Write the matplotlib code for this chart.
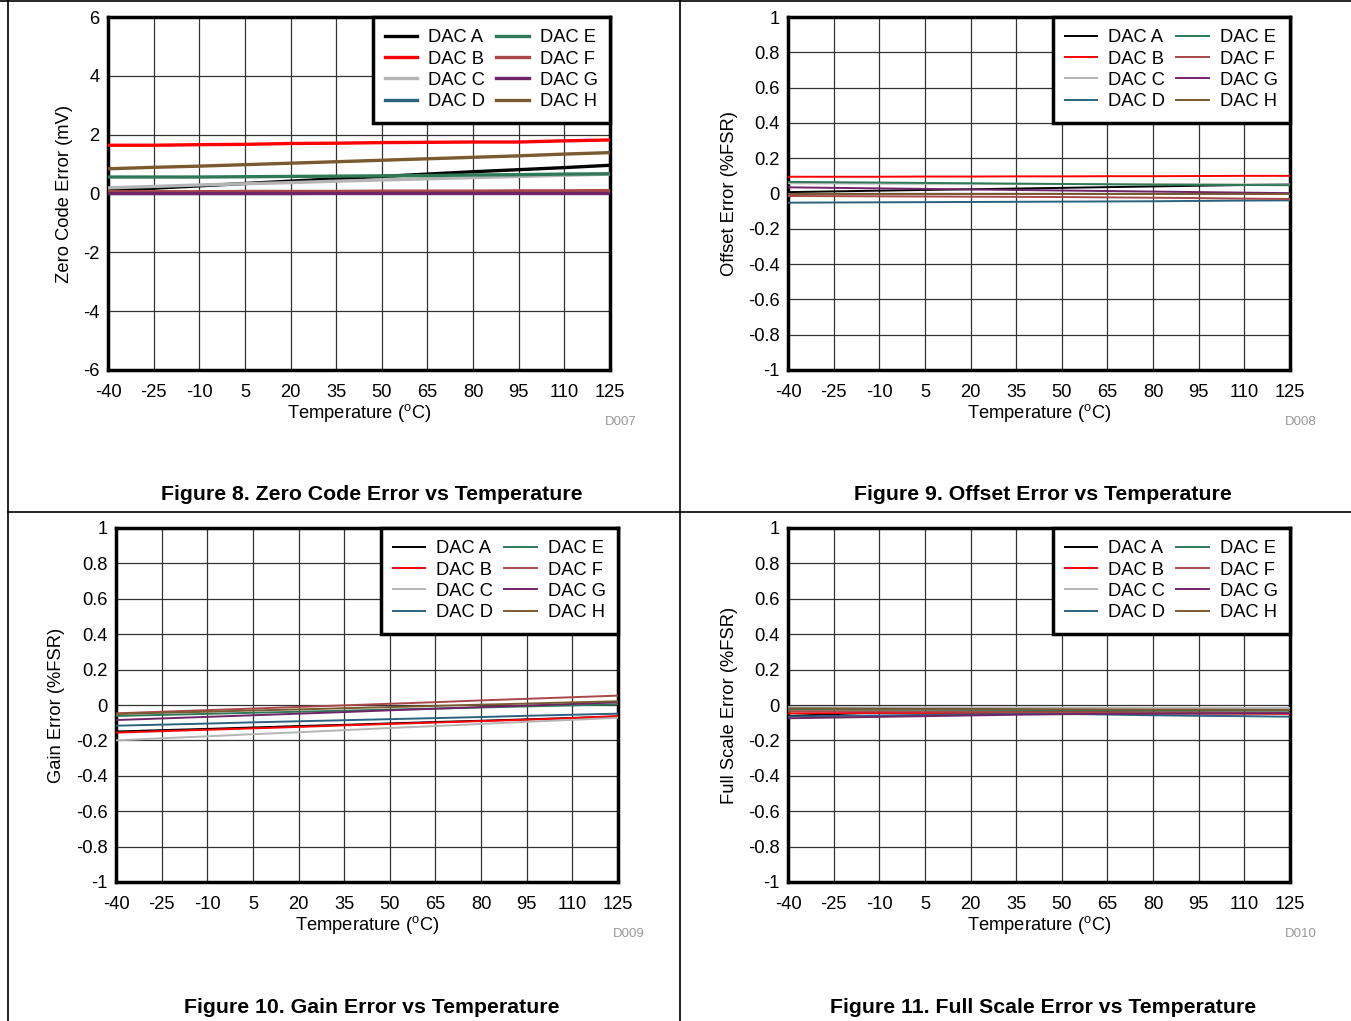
import matplotlib
matplotlib.use("Agg")
import matplotlib.pyplot as plt
from matplotlib.lines import Line2D
from matplotlib.ticker import FuncFormatter

plt.rcParams['font.family'] = ['Liberation Sans', 'DejaVu Sans']
plt.rcParams['axes.unicode_minus'] = False
plt.rcParams['mathtext.fontset'] = 'custom'
plt.rcParams['mathtext.rm'] = 'Liberation Sans'

temps = [-40, -25, -10, 5, 20, 35, 50, 65, 80, 95, 110, 125]
dac_names = ['DAC A', 'DAC B', 'DAC C', 'DAC D', 'DAC E', 'DAC F', 'DAC G', 'DAC H']
dac_colors = ['#000000', '#ff0000', '#b4b4b4', '#2a6280', '#2e7a58', '#a84848', '#702468', '#7a5a30']

# Figure 8: Zero code error (mV)
zc_a = [0.10, 0.18, 0.26, 0.34, 0.42, 0.50, 0.58, 0.66, 0.74, 0.81, 0.88, 0.96]
zc_b = [1.64, 1.64, 1.66, 1.67, 1.70, 1.71, 1.73, 1.74, 1.75, 1.75, 1.79, 1.82]
zc_c = [0.19, 0.24, 0.29, 0.33, 0.37, 0.42, 0.46, 0.50, 0.54, 0.58, 0.62, 0.66]
zc_d = [0.00, 0.00, 0.00, 0.00, 0.00, 0.01, 0.01, 0.01, 0.01, 0.01, 0.01, 0.01]
zc_e = [0.56, 0.56, 0.56, 0.57, 0.58, 0.59, 0.60, 0.61, 0.63, 0.64, 0.66, 0.67]
zc_f = [0.06, 0.06, 0.06, 0.07, 0.07, 0.07, 0.08, 0.08, 0.08, 0.09, 0.09, 0.10]
zc_g = [0.03, 0.03, 0.03, 0.03, 0.03, 0.03, 0.03, 0.03, 0.03, 0.03, 0.03, 0.03]
zc_h = [0.84, 0.89, 0.93, 0.98, 1.03, 1.08, 1.13, 1.18, 1.23, 1.28, 1.34, 1.39]

# Figure 9: Offset error (%FSR)
of_a = [0.008, 0.012, 0.016, 0.020, 0.024, 0.028, 0.032, 0.036, 0.040, 0.044, 0.048, 0.052]
of_b = [0.095, 0.095, 0.095, 0.096, 0.096, 0.097, 0.097, 0.098, 0.098, 0.099, 0.100, 0.100]
of_c = [0.058, 0.057, 0.056, 0.055, 0.055, 0.054, 0.054, 0.054, 0.053, 0.053, 0.052, 0.052]
of_d = [-0.052, -0.051, -0.050, -0.049, -0.048, -0.047, -0.046, -0.045, -0.044, -0.042, -0.040, -0.039]
of_e = [0.066, 0.064, 0.062, 0.060, 0.058, 0.056, 0.054, 0.052, 0.050, 0.049, 0.048, 0.047]
of_f = [-0.014, -0.015, -0.016, -0.017, -0.018, -0.019, -0.020, -0.022, -0.024, -0.026, -0.029, -0.031]
of_g = [0.035, 0.032, 0.029, 0.026, 0.023, 0.020, 0.017, 0.014, 0.011, 0.008, 0.005, 0.002]
of_h = [-0.003, -0.003, -0.003, -0.003, -0.003, -0.003, -0.003, -0.003, -0.003, -0.003, -0.003, -0.003]

# Figure 10: Gain error (%FSR)
ge_a = [-0.150, -0.142, -0.135, -0.127, -0.119, -0.112, -0.104, -0.096, -0.089, -0.081, -0.073, -0.066]
ge_b = [-0.156, -0.148, -0.140, -0.132, -0.124, -0.115, -0.107, -0.099, -0.091, -0.083, -0.074, -0.062]
ge_c = [-0.200, -0.188, -0.177, -0.165, -0.154, -0.142, -0.130, -0.119, -0.107, -0.095, -0.084, -0.072]
ge_d = [-0.117, -0.111, -0.105, -0.098, -0.092, -0.086, -0.080, -0.074, -0.068, -0.061, -0.055, -0.049]
ge_e = [-0.062, -0.056, -0.050, -0.044, -0.038, -0.032, -0.026, -0.020, -0.014, -0.008, -0.002, 0.004]
ge_f = [-0.047, -0.038, -0.029, -0.020, -0.011, -0.002, 0.007, 0.016, 0.026, 0.035, 0.044, 0.053]
ge_g = [-0.085, -0.076, -0.067, -0.058, -0.049, -0.040, -0.030, -0.021, -0.012, -0.003, 0.006, 0.015]
ge_h = [-0.051, -0.044, -0.038, -0.031, -0.025, -0.018, -0.012, -0.005, 0.002, 0.008, 0.015, 0.021]

# Figure 11: Full scale error (%FSR)
fs_a = [-0.062, -0.052, -0.042, -0.040, -0.040, -0.040, -0.041, -0.041, -0.042, -0.042, -0.043, -0.043]
fs_b = [-0.047, -0.046, -0.045, -0.045, -0.045, -0.046, -0.046, -0.047, -0.047, -0.048, -0.049, -0.050]
fs_c = [-0.012, -0.012, -0.013, -0.013, -0.014, -0.014, -0.015, -0.015, -0.016, -0.016, -0.017, -0.017]
fs_d = [-0.065, -0.062, -0.059, -0.056, -0.053, -0.051, -0.050, -0.054, -0.058, -0.061, -0.063, -0.066]
fs_e = [-0.025, -0.026, -0.027, -0.027, -0.028, -0.028, -0.029, -0.029, -0.030, -0.030, -0.031, -0.031]
fs_f = [-0.035, -0.036, -0.037, -0.038, -0.039, -0.040, -0.041, -0.042, -0.043, -0.043, -0.044, -0.045]
fs_g = [-0.075, -0.071, -0.067, -0.063, -0.059, -0.055, -0.052, -0.050, -0.049, -0.048, -0.047, -0.046]
fs_h = [-0.019, -0.020, -0.021, -0.022, -0.022, -0.023, -0.024, -0.025, -0.026, -0.026, -0.027, -0.028]

W, H = 1351, 1021
fig = plt.figure(figsize=(W / 100, H / 100), dpi=100)


def rect(x0, y0, x1, y1):
    return [x0 / W, 1 - y1 / H, (x1 - x0) / W, (y1 - y0) / H]


panels = [
    dict(pos=(108, 17, 610, 370), series=[zc_a, zc_b, zc_c, zc_d, zc_e, zc_f, zc_g, zc_h],
         ylim=(-6, 6), ystep=2, ylabel='Zero Code Error (mV)', lw=2.4,
         code='D007', title='Figure 8. Zero Code Error vs Temperature', tx=372, ty=495, ylx=64),
    dict(pos=(788, 17, 1290, 370), series=[of_a, of_b, of_c, of_d, of_e, of_f, of_g, of_h],
         ylim=(-1, 1), ystep=0.2, ylabel='Offset Error (%FSR)', lw=1.4,
         code='D008', title='Figure 9. Offset Error vs Temperature', tx=1043, ty=495, ylx=729),
    dict(pos=(116, 528, 618, 882), series=[ge_a, ge_b, ge_c, ge_d, ge_e, ge_f, ge_g, ge_h],
         ylim=(-1, 1), ystep=0.2, ylabel='Gain Error (%FSR)', lw=1.4,
         code='D009', title='Figure 10. Gain Error vs Temperature', tx=372, ty=1007, ylx=56),
    dict(pos=(788, 528, 1290, 882), series=[fs_a, fs_b, fs_c, fs_d, fs_e, fs_f, fs_g, fs_h],
         ylim=(-1, 1), ystep=0.2, ylabel='Full Scale Error (%FSR)', lw=1.4,
         code='D010', title='Figure 11. Full Scale Error vs Temperature', tx=1043, ty=1007, ylx=729),
]

fs = 13.2


def yfmt(v, pos):
    if abs(v - round(v)) < 1e-9:
        return '%d' % round(v)
    return '%.1f' % v


for p in panels:
    x0, y0, x1, y1 = p['pos']
    ax = fig.add_axes(rect(x0, y0, x1, y1))
    for vals, name, col in zip(p['series'], dac_names, dac_colors):
        ax.plot(temps, vals, color=col, lw=p['lw'], label=name, zorder=3)
    ax.set_xlim(-40, 125)
    ax.set_ylim(*p['ylim'])
    ax.set_xticks(temps)
    lo, hi = p['ylim']
    n = int(round((hi - lo) / p['ystep']))
    ax.set_yticks([lo + i * p['ystep'] for i in range(n + 1)])
    ax.yaxis.set_major_formatter(FuncFormatter(yfmt))
    ax.grid(True, color='#333333', lw=0.9, zorder=1)
    ax.tick_params(axis='x', length=0, labelsize=fs, pad=10)
    ax.tick_params(axis='y', length=0, labelsize=fs, pad=6)
    for s in ax.spines.values():
        s.set_linewidth(2.5)
        s.set_color('black')
    ax.set_xlabel(r'Temperature ($^{\mathrm{o}}$C)', fontsize=fs, labelpad=1)
    ax.set_ylabel(p['ylabel'], fontsize=fs)
    ax.yaxis.set_label_coords((p['ylx'] + 9 - x0) / (x1 - x0), 0.5)
    leg = ax.legend(ncol=2, loc='upper right', fontsize=fs, frameon=True, fancybox=False,
                    framealpha=1, edgecolor='black', borderaxespad=0, handlelength=1.75,
                    handletextpad=0.6, columnspacing=0.6, labelspacing=0.23,
                    borderpad=0.68)
    leg.get_frame().set_linewidth(2.5)
    for lh in leg.get_lines():
        lh.set_linewidth(1.4 if p['lw'] < 2 else 2.4)
    leg.set_zorder(5)
    fig.text((x1 + 11) / W, 1 - (y1 + 52) / H, p['code'], fontsize=9.5, color='#999999',
             ha='center', va='center')
    fig.text(p['tx'] / W, 1 - p['ty'] / H, p['title'], fontsize=15.3, fontweight='bold',
             ha='center', va='center')

# panel separators
for (xa, ya, xb, yb) in [(0, 1, W, 1), (8, 1, 8, H), (680, 1, 680, H), (8, 512, W, 512)]:
    fig.add_artist(Line2D([xa / W, xb / W], [1 - ya / H, 1 - yb / H], color='black', lw=1.2))

fig.savefig('out.png', dpi=100)
